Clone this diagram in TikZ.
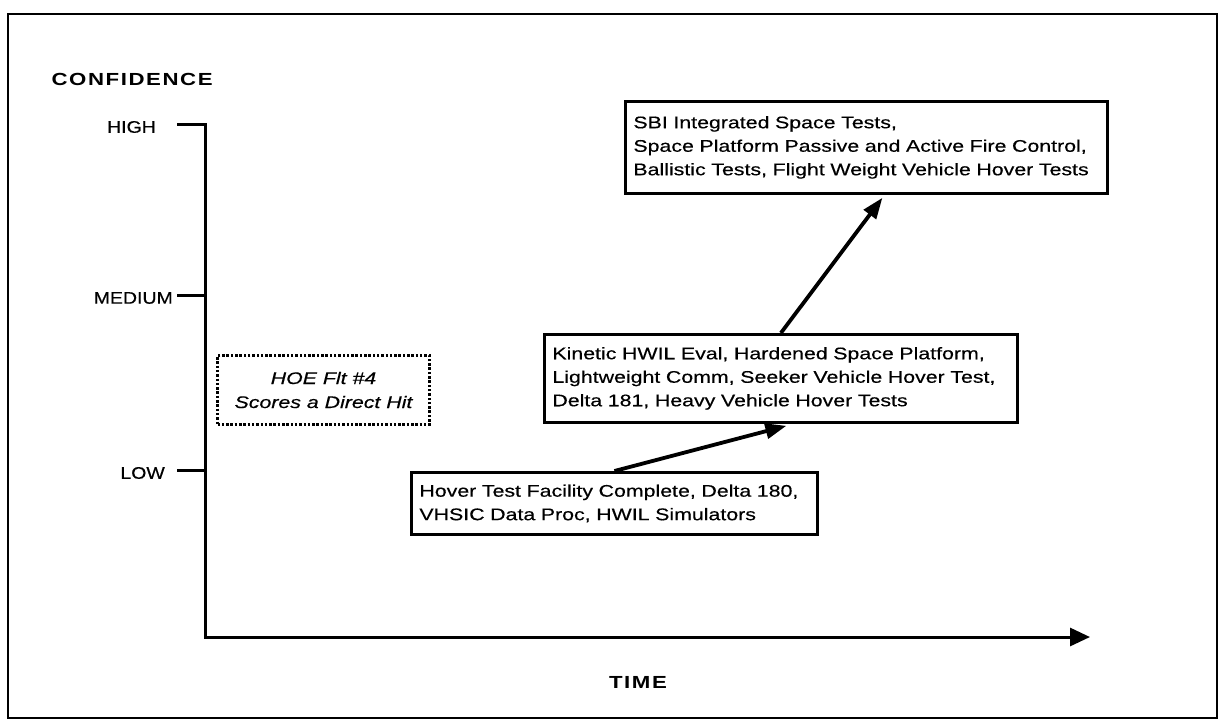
\documentclass[tikz,border=0pt]{standalone}
\usepackage{fontspec}
\setmainfont[FakeStretch=1.27,FakeBold=0.4]{Liberation Sans}
\newfontfamily\axisfont[FakeStretch=1.27,LetterSpace=9]{Liberation Sans}
\newfontfamily\lvlfont[FakeStretch=1.16,FakeBold=0.4]{Liberation Sans}
\usetikzlibrary{arrows.meta}
\begin{document}
\begin{tikzpicture}[x=1pt,y=-1pt,font=\fontsize{16.8}{23.5}\selectfont]
	\useasboundingbox(0,0)rectangle(1220,721);
	\tikzset{axis/.style={line width=3pt},
		evt/.style={draw,line width=2.8pt,anchor=north west,align=left,inner xsep=8pt},
		riseline/.style={line width=3.8pt,-{Triangle[length=21pt,width=15pt]}}}
	\draw[line width=2.8pt](8,14)rectangle(1217,718);
	\node(conf)[anchor=west]at(48,79){\axisfont\fontsize{17.5}{20}\selectfont\bfseries CONFIDENCE};
	\node(time)at(638,682){\axisfont\fontsize{17.5}{20}\selectfont\bfseries TIME};
	\coordinate(org)at(205,637);
	\coordinate(tend)at(1090,637);
	\foreach\name/\lab/\y/\xr in{high/HIGH/124/156,med/MEDIUM/295/173,low/LOW/470/165}{
		\node(\name)[anchor=east,inner sep=0pt,font=\lvlfont\fontsize{16.8}{20}\selectfont]at(\xr,\y+3){\lab};
		\coordinate(\name t)at(177,\y);
	}
	\draw[axis](medt)--(medt-|org);
	\draw[axis](lowt)--(lowt-|org);
	\draw[axis,-{Triangle[length=20pt,width=18pt]}](hight)--(hight-|org)--(org)--(tend);
	\node(hoe)[draw,line width=3pt,dash pattern=on 2.5pt off 1.8pt,anchor=north west,
		minimum width=212pt,minimum height=69pt,align=center,font=\fontsize{16.8}{24}\selectfont\itshape]
		at(216,354){HOE Flt \#4\\Scores a Direct Hit};
	\node(hover)[evt,text width=390pt,minimum height=62pt]at(410,471)
		{Hover Test Facility Complete, Delta 180,\\VHSIC Data Proc, HWIL Simulators};
	\node(kinetic)[evt,text width=457pt,minimum height=88pt]at(543,333)
		{Kinetic HWIL Eval, Hardened Space Platform,\\Lightweight Comm, Seeker Vehicle Hover Test,\\Delta 181, Heavy Vehicle Hover Tests};
	\node(sbi)[evt,text width=466pt,minimum height=92pt]at(624,100)
		{SBI Integrated Space Tests,\\Space Platform Passive and Active Fire Control,\\Ballistic Tests, Flight Weight Vehicle Hover Tests};
	\draw[riseline](hover.north)--([xshift=5.5pt,yshift=-2pt]kinetic.south);
	\draw[riseline](kinetic.north)--([xshift=16pt,yshift=-3pt]sbi.south);
\end{tikzpicture}
\end{document}
